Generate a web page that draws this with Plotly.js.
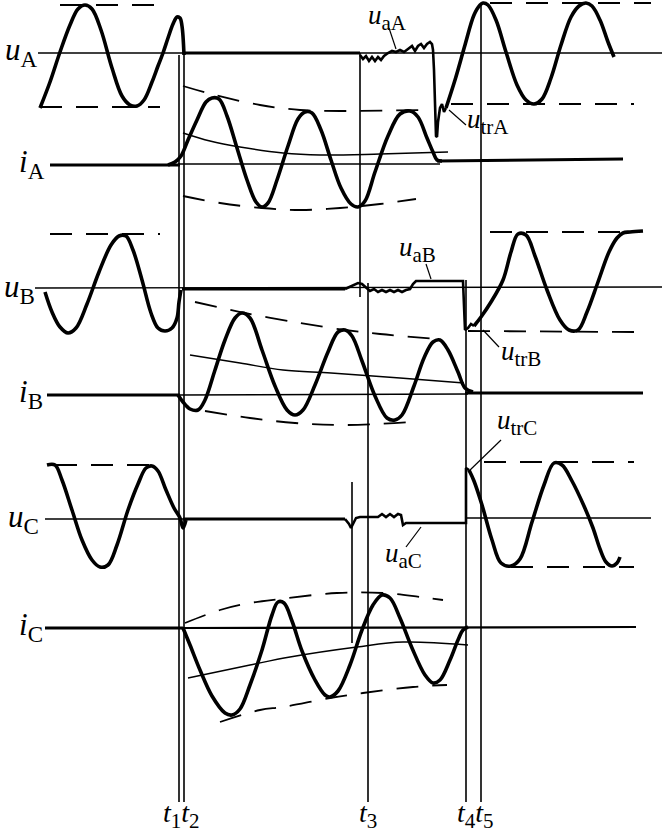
<!DOCTYPE html>
<html><head><meta charset="utf-8">
<script src="https://cdn.plot.ly/plotly-3.0.1.min.js"></script>
<style>html,body{margin:0;padding:0;background:#fff}</style>
</head><body><div id="chart" style="width:662px;height:833px"></div>
<script>
// ---- waveform points (x: time position, y: level, screen units) ----
const uA_pre   = [[40,108],[50,82],[60,52],[70,25],[78,9],[85,5],[92,9],[101,30],[112,68],[122,96],[130,105],[137,106],[144,100],[152,82],[158,66],[163,53],[168,38],[173,24],[177,17],[180,18],[182,26],[184,55]];
const uA_post  = [[360,55],[363,59],[366,56],[369,61],[372,57],[375,61],[378,57],[381,60],[384,56],[388,53],[392,51],[396,52],[400,50],[404,52],[408,49],[412,46],[415,51],[418,46],[421,44],[424,48],[427,44],[430,42],[432,44],[433,50],[434,70],[435,110],[436,136],[437,137],[438,122],[440,108],[442,104],[444,112],[446,108]];
const uA_rec   = [[446,108],[455,80],[465,45],[474,15],[480,5],[483,3],[488,5],[496,20],[506,52],[517,85],[526,100],[534,104],[542,99],[551,78],[561,45],[571,17],[579,6],[586,3],[592,6],[600,20],[608,42],[614,57]];
const iA_wave  = [[168,165],[175,162],[181,156],[188,140],[197,120],[206,102],[212,98],[219,99],[227,116],[237,148],[247,180],[256,202],[262,207],[268,203],[277,180],[288,146],[298,119],[305,112],[312,113],[321,130],[331,160],[341,188],[351,204],[358,207],[365,201],[375,172],[388,136],[400,114],[410,111],[418,117],[427,138],[433,152],[437,160],[442,161]];
const iA_env_up  = [[183,86],[215,95],[260,105],[300,110],[340,111],[420,110]];
const iA_env_lo  = [[183,196],[220,203],[262,208],[300,210],[340,208],[380,204],[416,199]];
const iA_dc      = [[183,133],[210,141],[240,147],[283,153],[320,155],[380,154],[448,152]];
const uB_pre   = [[45,292],[52,312],[60,327],[68,333],[76,328],[87,304],[99,272],[111,245],[119,236],[126,236],[133,250],[142,280],[151,313],[158,328],[165,331],[172,328],[177,318],[179,302],[181,290]];
const uB_post  = [[345,289],[352,286],[358,283],[362,284],[366,288],[370,291],[374,289],[378,292],[382,290],[386,292],[390,290],[394,292],[398,290],[402,292],[406,290],[410,289],[413,284],[416,281],[463,281],[464,300],[465,330],[468,328],[471,324],[474,326]];
const uB_rec   = [[474,326],[481,317],[491,302],[503,280],[511,252],[518,234],[526,235],[535,256],[547,290],[560,320],[569,330],[578,330],[587,312],[598,282],[609,252],[617,238],[623,233],[630,232],[643,231]];
const iB_wave  = [[178,395],[183,402],[190,409],[198,410],[205,400],[215,370],[225,340],[235,318],[242,313],[250,318],[262,350],[275,386],[287,410],[295,415],[303,410],[315,385],[328,352],[338,332],[345,330],[352,336],[362,361],[375,396],[387,418],[395,420],[402,415],[414,386],[424,358],[433,342],[440,340],[448,350],[458,372],[465,388],[473,392]];
const iB_env_up  = [[195,302],[245,313],[300,323],[345,330],[380,334],[437,339]];
const iB_env_lo  = [[205,411],[250,418],[295,423],[345,425],[413,422]];
const iB_dc      = [[190,355],[240,363],[283,370],[331,373],[400,378],[464,383]];
const uC_pre   = [[47,465],[55,465],[62,480],[72,510],[82,540],[92,560],[100,567],[108,565],[117,545],[128,510],[138,484],[146,468],[152,466],[158,471],[166,490],[174,508],[180,518],[183,528],[186,520]];
const uC_post  = [[345,519],[349,524],[351,528],[353,524],[356,518],[360,517],[378,517],[382,514],[386,517],[390,514],[394,517],[398,514],[401,515],[403,525],[406,523],[466,523],[466,468],[469,470]];
const uC_rec   = [[469,470],[474,481],[482,505],[492,540],[501,563],[511,566],[520,559],[532,522],[544,485],[554,463],[562,465],[572,481],[584,506],[593,528],[600,549],[606,562],[612,566],[617,563],[620,557]];
const iC_wave  = [[183,628],[190,645],[200,670],[212,696],[225,713],[232,715],[240,709],[250,685],[262,650],[272,615],[278,602],[284,603],[292,621],[302,651],[315,680],[325,695],[330,697],[338,691],[350,665],[362,630],[373,605],[382,595],[390,598],[400,618],[412,648],[425,675],[433,683],[440,680],[450,660],[458,640],[463,630],[468,627]];
const iC_env_up  = [[185,623],[220,610],[250,603],[280,599],[337,593],[383,593],[420,597],[443,600]];
const iC_env_lo  = [[220,722],[260,710],[283,707],[330,698],[363,693],[413,687],[447,685]];
const iC_dc      = [[188,678],[250,665],[290,657],[357,647],[403,642],[468,645]];
// reference lines (zero axes) and amplitude guides
const axes_thin = [[[38,53],[662,53]],[[178,164],[440,164]],[[35,288],[662,287]],[[178,395],[468,394]],[[45,519],[183,519]],[[466,518],[651,518]]];
const axes_thick = [[[183,53],[360,53]],[[50,165],[180,165]],[[437,161],[623,159]],[[182,289],[345,289]],[[47,395],[180,395]],[[465,393],[643,393]],[[183,519],[345,519]],[[45,628],[183,628]]];
const axes_mid = [[[183,628],[636,627]]];
const guides = [[[60,5],[160,5]],[[40,107],[160,107]],[[490,3],[651,3]],[[451,104],[634,104]],[[50,234],[160,234]],[[490,232],[640,232]],[[468,331],[635,332]],[[55,465],[155,465]],[[484,462],[634,462]],[[511,567],[634,567]]];
// time markers
const t_x   = [179, 184, 360, 368, 352, 466, 481];
const t_top = [55, 55, 53, 283, 482, 280, 3];
const t_bot = [802, 802, 297, 802, 643, 802, 802];
const leaders = [[[389,28],[396,49]],[[449,110],[466,125]],[[426,264],[431,279]],[[483,330],[499,347]],[[468,472],[501,440]],[[421,527],[406,547]]];
// texts: [symbol, subscript, x, y]
const sigLabels = [["u","A",3,52],["i","A",17,164],["u","B",2,289],["i","B",17,394],["u","C",6,519],["i","C",17,627]];
const noteLabels = [["u","aA",366,17],["u","trA",465,121],["u","aB",397,249],["u","trB",499,353],["u","trC",495,422],["u","aC",383,555]];
const timeLabels = [[["t","1"],["t","2"],181,815],[["t","3"],null,368,815],[["t","4"],["t","5"],475,815]];

const xs = a => a.map(p => p[0]), ys = a => a.map(p => p[1]);
const traces = [];
function add(pts, width, opt) {
  opt = opt || {};
  traces.push({x: xs(pts), y: ys(pts), mode: 'lines', hoverinfo: 'skip', showlegend: false,
    line: {color: '#000', width: width, dash: opt.dash || 'solid', shape: opt.spline ? 'spline' : 'linear', smoothing: 1}});
}
axes_thin.forEach(s => add(s, 1.4));
axes_mid.forEach(s => add(s, 2.2));
axes_thick.forEach(s => add(s, 3));
guides.forEach(s => add(s, 1.8, {dash: '22px,14px'}));
[iA_env_up, iA_env_lo, iB_env_up, iB_env_lo, iC_env_up, iC_env_lo].forEach(s => add(s, 1.8, {dash: '22px,14px', spline: true}));
[iA_dc, iB_dc, iC_dc].forEach(s => add(s, 1.5, {spline: true}));
t_x.forEach((x, i) => add([[x, t_top[i]], [x, t_bot[i]]], 1.6));
leaders.forEach(s => add(s, 1.2));
[uA_pre, uA_rec, iA_wave, uB_pre, uB_rec, iB_wave, uC_pre, uC_rec, iC_wave].forEach(s => add(s, 3.6, {spline: true}));
[uA_post, uB_post, uC_post].forEach(s => add(s, 2.6));

const sym = (s, sub, subPx) => '<i>' + s + '</i><sub><span style="font-size:' + subPx + 'px">' + sub + '</span></sub>';
const fnt = {family: 'Liberation Serif, Times New Roman, serif', color: '#000'};
const ann = [];
sigLabels.forEach(l => ann.push({text: sym(l[0], l[1], 23), x: l[2], y: l[3], xref: 'x', yref: 'y', xanchor: 'left', yanchor: 'middle', showarrow: false, font: Object.assign({size: 31}, fnt)}));
noteLabels.forEach(l => ann.push({text: sym(l[0], l[1], 21), x: l[2], y: l[3], xref: 'x', yref: 'y', xanchor: 'left', yanchor: 'middle', showarrow: false, font: Object.assign({size: 27}, fnt)}));
timeLabels.forEach(l => ann.push({text: sym(l[0][0], l[0][1], 21) + (l[1] ? sym(l[1][0], l[1][1], 21) : ''), x: l[2], y: l[3], xref: 'x', yref: 'y', xanchor: 'center', yanchor: 'middle', showarrow: false, font: Object.assign({size: 28}, fnt)}));

const layout = {
  width: 662, height: 833, margin: {l: 0, r: 0, t: 0, b: 0},
  paper_bgcolor: '#fff', plot_bgcolor: '#fff',
  xaxis: {range: [0, 662], visible: false, fixedrange: true},
  yaxis: {range: [833, 0], visible: false, fixedrange: true},
  annotations: ann, showlegend: false
};
Plotly.newPlot('chart', traces, layout, {staticPlot: true, displayModeBar: false});
</script></body></html>
